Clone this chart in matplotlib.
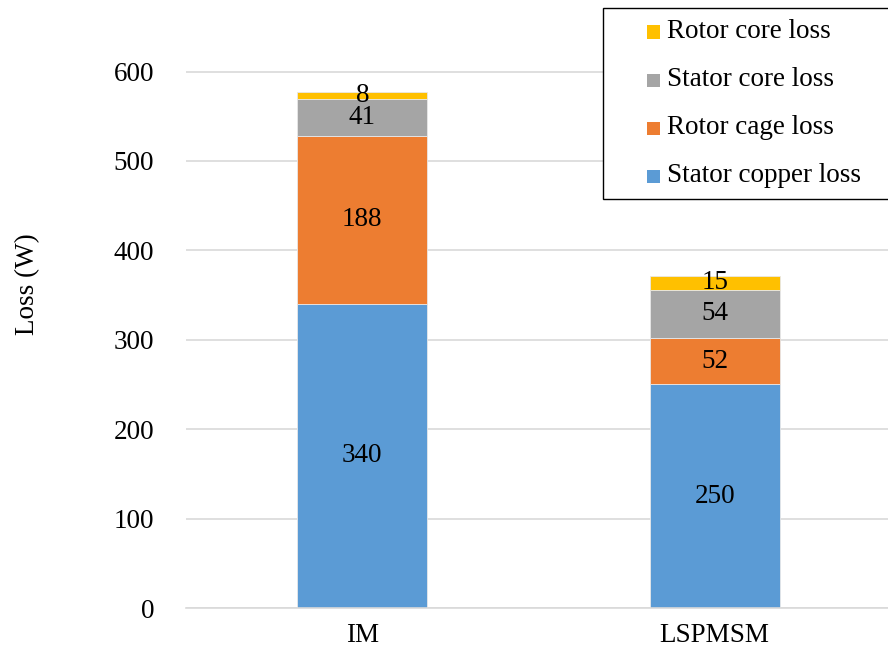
import matplotlib
matplotlib.use("Agg")
import matplotlib.pyplot as plt
from matplotlib.patches import Rectangle
import numpy as np

plt.rcParams['font.family'] = ['Liberation Serif', 'DejaVu Serif']

# Loss breakdown per machine type (W)
machines = ["IM", "LSPMSM"]
stator_copper = [340, 250]
rotor_cage = [188, 52]
stator_core = [41, 54]
rotor_core = [8, 15]

series = [
    ("Stator copper loss", stator_copper, "#5B9BD5"),
    ("Rotor cage loss", rotor_cage, "#ED7D31"),
    ("Stator core loss", stator_core, "#A5A5A5"),
    ("Rotor core loss", rotor_core, "#FFC000"),
]
yticks = [0, 100, 200, 300, 400, 500, 600]

FS = 19.5
W, H = 888, 655
fig = plt.figure(figsize=(W / 100, H / 100), dpi=100)
ax = fig.add_axes([186 / W, (H - 608) / H, (891 - 186) / W, 608 / H])

x = np.arange(len(machines))
bottom = np.zeros(len(machines))
for name, vals, color in series:
    vals = np.array(vals, dtype=float)
    ax.bar(x, vals, width=0.37, bottom=bottom, color=color,
           edgecolor="#E8E8E8", linewidth=0.6, label=name, zorder=3)
    for xi, b, v in zip(x, bottom, vals):
        ax.text(xi, b + v / 2, f"{v:g}", ha="center", va="center",
                fontsize=FS, color="black", zorder=4)
    bottom += vals

ax.set_xlim(-0.5, 1.5)
ax.set_ylim(0, 680)
ax.set_yticks(yticks)
ax.set_xticks(x)
ax.set_xticklabels(machines)
ax.tick_params(axis="both", length=0, labelsize=FS)
ax.tick_params(axis="y", pad=23)
ax.tick_params(axis="x", pad=11)
ax.yaxis.grid(True, color="#D9D9D9", linewidth=1.2, zorder=0)
for s in ("top", "right", "left"):
    ax.spines[s].set_visible(False)
ax.spines["bottom"].set_color("#D9D9D9")
ax.spines["bottom"].set_linewidth(1.2)
ax.spines["bottom"].set_zorder(5)

fig.text(28 / W, 1 - 284 / H, "Loss (W)", rotation=90, ha="center",
         va="center", fontsize=FS)

# Legend box in pixel layout, entries listed top-down (last series first)
def px(xp, yp):
    return xp / W, 1 - yp / H

fx, fy = px(603, 199)
fig.patches.append(Rectangle((fx, fy), (910 - 603) / W, (199 - 8) / H,
                             transform=fig.transFigure, facecolor="white",
                             edgecolor="black", linewidth=1.0, zorder=10))
for i, (name, _, color) in enumerate(series[::-1]):
    yc = 32 + 48 * i
    sx, sy = px(647, yc + 6.5)
    fig.patches.append(Rectangle((sx, sy), 13 / W, 13 / H,
                                 transform=fig.transFigure, facecolor=color,
                                 edgecolor="none", zorder=11))
    tx, ty = px(667, yc)
    fig.text(tx, ty, name, ha="left", va="center", fontsize=FS, zorder=12)

fig.savefig("out.png", dpi=100)
